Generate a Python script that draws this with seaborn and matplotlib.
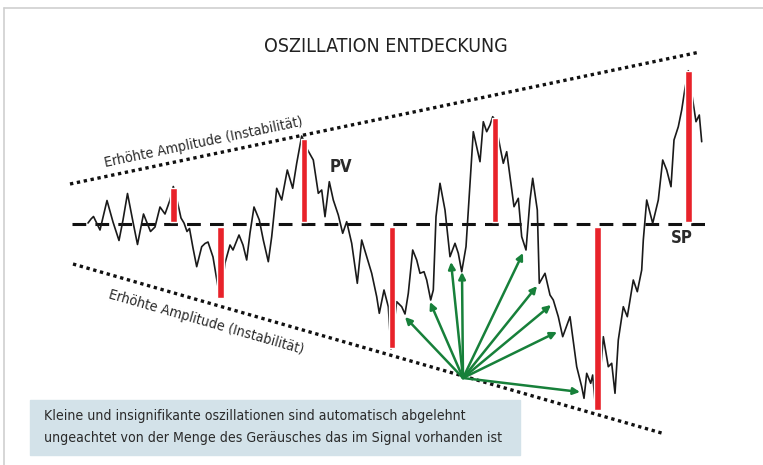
import numpy as np
import pandas as pd
import seaborn as sns
import matplotlib.pyplot as plt

# everything is laid out in the picture's own pixel units (763 x 465, y downwards)
signal_x = [88, 91, 93.5, 100, 107, 113, 119, 123, 127.5, 133, 137.5, 143.5, 150.5, 155, 160, 165, 170,
            173.3, 177, 181, 184, 187, 189.5, 193, 196.7, 201.7, 205, 208, 213, 218, 220.7, 225, 230,
            233, 239, 243, 246.7, 250, 254, 259.3, 263.3, 268.3, 271.7, 276.7, 281.7, 287.3, 292.7,
            296.7, 301.7, 306.7, 313.3, 318.3, 321.7, 325, 329.3, 333.3, 338.3, 342.7, 346.7, 351.7,
            357.3, 361.7, 366.7, 371.7, 376.7, 379.3, 384, 388.3, 391, 396.7, 401.7, 405, 408.3, 412.7,
            416.7, 420, 424, 426.7, 430.7, 433.3, 436, 440, 445, 450, 455, 458.3, 461.7, 466, 470,
            473.3, 480, 483.3, 486.7, 490, 492.7, 495, 500, 503.3, 506.7, 510, 514, 518.3, 521.7, 526,
            530, 532.7, 537.3, 539.3, 545, 550, 553.3, 558.3, 562.7, 570, 576.7, 581.7, 584, 586.7,
            590.7, 592.7, 595, 597.3, 600, 603.3, 608.3, 611.7, 615, 618.3, 623.3, 627.3, 633.3,
            637.3, 641.7, 643.3, 646.7, 652.7, 658.3, 662.7, 666.7, 671, 674, 678.3, 681.7, 685,
            688.3, 691.7, 696, 699.3, 701.7]
signal_y = [223, 219, 216.5, 230, 200.5, 222, 240.5, 220, 193.5, 222, 244.5, 214, 231.5, 227, 207, 214, 200,
            186.5, 200, 218, 223, 231.5, 228.5, 248, 266.7, 246.7, 243.5, 242, 257, 287, 298, 263, 245,
            250, 235, 245, 260, 233, 207, 220, 240, 261.7, 236.7, 188.3, 200, 170, 188.3,
            163.3, 136, 148.3, 160, 193.3, 190, 216.7, 181.7, 200, 215, 233.3, 221.7, 243.3,
            283.3, 240, 256.7, 273.3, 296.7, 313.3, 290, 306.7, 349, 301.7, 306.7, 314, 293.3, 250,
            260, 273.3, 271.7, 280, 300, 290, 216.7, 183.3, 210, 256.7, 243.3, 253.3, 271.7, 246.7, 183.3,
            131.7, 161.7, 121.7, 131.7, 125, 116.7, 120, 146.7, 163.3, 151.7, 176.7, 206.7, 198.3, 236.7, 250,
            200, 178.3, 210, 283.3, 273.3, 295, 300, 316.7, 336.7, 316.7, 366.7, 386.7, 398.3, 373.3,
            383.3, 375, 401.7, 410, 376.7, 336.7, 366.7, 363.3, 393.3, 340, 306.7, 316.7, 280,
            291.7, 270, 240, 200, 223.3, 200, 160, 170, 186.7, 140, 126.7, 110, 88.3,
            70.7, 93.3, 121.7, 115, 141.7]

# red swings measured from the zero line
swing_x = [173.3, 220.7, 304, 392, 495, 597.3, 688.3]
swing_top = [188, 226.5, 139, 226.5, 118, 226.5, 71.5]
swing_bottom = [221.5, 298, 221.5, 348, 221.5, 410, 222]

zero_y = 224
zero_x = [72, 712]
upper_band_x = [70, 700]
upper_band_y = [184, 52]
lower_band_x = [73, 665]
lower_band_y = [264, 434]

arrow_origin = (463, 378)
arrow_tip_x = [405, 430, 451, 462, 523, 537, 551, 557, 580]
arrow_tip_y = [317, 302, 262, 272, 253, 286, 305, 332, 392]

title = 'OSZILLATION ENTDECKUNG'
band_label = 'Erhöhte Amplitude (Instabilität)'
note_lines = ['Kleine und insignifikante oszillationen sind automatisch abgelehnt',
              'ungeachtet von der Menge des Geräusches das im Signal vorhanden ist']

sns.set_theme(style='white')
plt.rcParams['font.family'] = ['DejaVu Sans']
plt.rcParams['font.stretch'] = 'condensed'

fig = plt.figure(figsize=(7.63, 4.65), dpi=100)
ax = fig.add_axes([0, 0, 1, 1])
ax.set_xlim(0, 763)
ax.set_ylim(465, 0)
ax.axis('off')

# frame of the panel
ax.plot([4, 763], [8, 8], color='#cfcfcf', lw=1.2)
ax.plot([4, 4], [8, 465], color='#cfcfcf', lw=1.2)

ax.text(386, 46, title, ha='center', va='center', fontsize=14, color='#222222')

# bands and zero line
ax.plot(upper_band_x, upper_band_y, color='#111111', lw=2.4, dashes=(1, 1.1), dash_capstyle='butt')
ax.plot(lower_band_x, lower_band_y, color='#111111', lw=2.4, dashes=(1, 1.1), dash_capstyle='butt')
ax.plot(zero_x, [zero_y, zero_y], color='#111111', lw=2.2, dashes=(4.5, 3))

ang_up = np.degrees(np.arctan2(upper_band_y[0] - upper_band_y[1], upper_band_x[1] - upper_band_x[0]))
ang_lo = -np.degrees(np.arctan2(lower_band_y[1] - lower_band_y[0], lower_band_x[1] - lower_band_x[0]))
ax.text(204, 142, band_label, rotation=ang_up, rotation_mode='anchor', ha='center', va='center',
        fontsize=10.3, color='#2a2a2a')
ax.text(206, 322, band_label, rotation=ang_lo, rotation_mode='anchor', ha='center', va='center',
        fontsize=10.3, color='#2a2a2a')

# signal
df = pd.DataFrame({'x': signal_x, 'y': signal_y})
sns.lineplot(data=df, x='x', y='y', ax=ax, color='#1a1a1a', lw=1.2, sort=False, estimator=None)
ax.axis('off')

# red swing bars
heights = [b - t for t, b in zip(swing_top, swing_bottom)]
ax.bar(swing_x, heights, bottom=swing_top, width=6.5, color='#e8222a', zorder=3)

# green arrows
for tx, ty in zip(arrow_tip_x, arrow_tip_y):
    ax.annotate('', xy=(tx, ty), xytext=arrow_origin,
                arrowprops=dict(arrowstyle='-|>', color='#17803a', lw=1.8, mutation_scale=10,
                                shrinkA=0, shrinkB=0), zorder=4)

ax.text(341, 167, 'PV', ha='center', va='center', fontsize=12, fontweight='bold', color='#2a2a2a')
ax.text(682, 238, 'SP', ha='center', va='center', fontsize=12, fontweight='bold', color='#2a2a2a')

# note box
ax.add_patch(plt.Rectangle((30, 400), 490, 55, color='#d3e2e9', zorder=5))
ax.text(44, 416, note_lines[0], ha='left', va='center', fontsize=10.1, color='#2a2a2a', zorder=6)
ax.text(44, 438, note_lines[1], ha='left', va='center', fontsize=10.1, color='#2a2a2a', zorder=6)

fig.savefig('out.png', dpi=100)
